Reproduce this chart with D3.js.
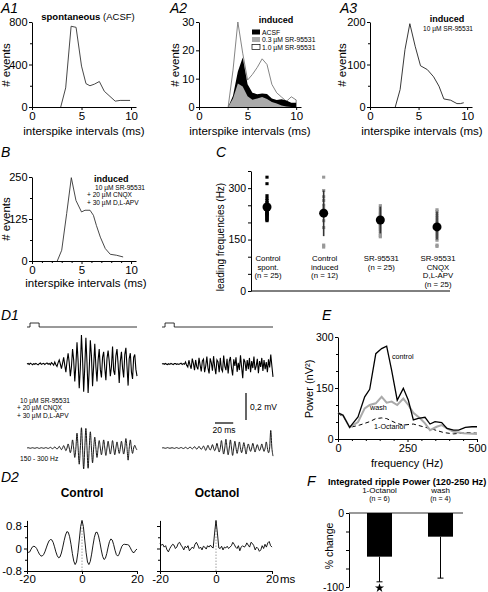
<!DOCTYPE html>
<html><head><meta charset="utf-8">
<script src="https://cdn.jsdelivr.net/npm/d3@7"></script>
<style>body{margin:0;background:#fff}svg{display:block;font-family:"Liberation Sans",Arial,Helvetica,sans-serif}</style>
</head><body><svg id="c" width="488" height="592"></svg>
<script>
// ---------------- DATA ----------------
// A1 spontaneous (ACSF) ISI histogram
const a1X = [2.9,3.4,3.95,4.45,5.0,5.45,5.85,6.3,6.8,7.3,8.4,8.9,9.9];
const a1Y = [0,180,760,750,385,220,200,215,240,148,55,62,62];
// A2 induced, three conditions on common bins
const a2X = [3.0,3.5,4.0,4.5,5.0,5.5,6.0,6.5,7.0,7.5,8.0,8.5,9.0,9.5,10.0];
const a2Sr10 = [0,13,30,19,9.5,11.5,14,17,15,8,5,3.5,2,3.6,2.5];
const a2Acsf = [0,4,12.5,17.5,8,5,4.5,4.8,4.6,3,2.5,2.7,2.3,1.5,1.5];
const a2Sr03 = [0,3,8.3,7.2,3.8,2.6,3.0,3.5,2.8,1.8,1.2,0.5,0.2,0,0];
const a2Legend = ["ACSF","0.3 µM SR-95531","1.0 µM SR-95531"];
// A3 induced 10 µM SR-95531
const a3X = [2.6,3.1,3.6,4.1,4.65,5.2,5.9,6.55,7.1,7.6,8.3,8.95,9.3,9.65];
const a3Y = [0,41,135,196,143,97,88,71,49,19,16,8,8,10];
// B induced + CNQX + APV
const bX = [2.55,3.0,3.5,3.97,4.44,5.0,5.35,5.86,6.2,6.5,6.9,7.4,7.9,8.55,9.2];
const bY = [0,32,141,248,180,146,151,151,136,106,71,37,20,17,12];
const isiTicks = [0,5,10];
// C leading frequencies
const cGroups = ["Control spont.","Control induced","SR-95531","SR-95531 CNQX D,L-APV"];
const cLabels = [["Control","spont.","(n = 25)"],["Control","induced","(n = 12)"],["SR-95531","(n = 25)"],["SR-95531","CNQX","D,L-APV","(n = 25)"]];
const cMeans = [245,227,207,187];
const cLow = [210,160,168,150];
const cHigh = [280,293,246,232];
const cPoints = [
 [332,313,278,270,264,258,254,250,247,244,241,238,236,233,230,228,226,224,222,220,217,214,211,208,205],
 [332,293,275,264,250,240,230,220,205,185,134,128],
 [249,242,236,230,226,222,218,214,211,209,207,205,203,201,199,197,195,192,188,184,180,175,168,162,158],
 [237,232,226,220,215,210,205,200,196,193,190,187,185,182,180,177,174,170,166,162,158,153,148,134,130]
];
// D1 field potential traces (µV, one sample per 1.22 ms)
const d1Dt = 1.22, stimOnset = 3.3, stimDur = 10;
const d1RawCtrl = [0,4,-3,6,1,-5,3,-2,5,-1,-6,2,7,-3,1,5,-4,3,8,-2,4,-6,10,3,-8,
 15,-5,-18,10,30,0,-35,5,50,-10,-60,20,80,10,-90,-20,110,30,-130,-10,
 160,20,-180,-30,215,40,-205,-20,195,10,-215,-40,175,60,-165,-10,150,-20,-130,30,
 110,-40,-100,50,90,-30,-120,40,100,20,-90,-20,130,-50,-80,60,110,0,-140,20,90,-30,-100,70,120,-20,-160,40,80,-60,-110,50,70,-40,-90];
const d1RawOct = [0,3,-2,4,-1,-4,2,-3,5,0,-5,3,4,-2,1,-3,2,6,-4,3,-2,
 15,-10,-22,28,-8,-35,40,4,-45,30,-20,-40,45,-8,-55,22,35,-60,-15,55,
 -30,-70,42,8,-50,58,-22,-75,30,15,-60,45,-38,-55,62,-15,-45,38,-70,22,
 52,-30,-85,35,-15,50,-58,8,-45,65,-22,-105,38,15,-52,30,-38,45,-60,22,
 -30,55,-45,-15,38,-68,22,-22,45,-52,30,-38,15,-60,35,-26,70,-15,-95];
const d1FiltCtrl = [0,2,0,-2,0,2,0,-2,0,3,0,-3,0,2,0,-2,0,3,0,-3,
 0,5,0,-5,0,8,0,-8,0,12,0,-12,0,18,0,-20,0,30,0,-35,
 0,60,0,-70,0,110,0,-120,0,150,0,-155,0,145,0,-150,0,120,0,-110,
 0,80,0,-70,0,55,0,-50,0,60,0,-55,0,50,0,-45,0,55,0,-50,
 0,45,0,-40,0,50,0,-45,0,70,0,-90,0,60,0,-40,0,20,0,-15];
const d1FiltOct = [0,2,0,-2,0,3,0,-2,0,2,0,-3,0,3,0,-3,0,4,0,-4,
 0,5,0,-5,0,8,0,-6,0,10,0,-8,0,12,0,-10,0,15,0,-18,
 0,20,0,-15,0,25,0,-20,0,35,0,-30,0,55,0,-45,0,65,0,-50,
 0,60,0,-55,0,50,0,-40,0,45,0,-35,0,40,0,-45,0,30,0,-25,
 0,35,0,-30,0,25,0,-20,0,30,0,-25,0,45,0,-35,0,130,0,-60];
const d1Drugs = ["10 µM SR-95531","+ 20 µM CNQX","+ 30 µM D,L-APV"];
// D2 autocorrelograms, lag -20..20 ms step 0.5
const d2Step = 0.5;
const d2Ctrl = [-0.08,-0.14,-0.12,-0.02,0.06,0.08,0.06,0.0,-0.10,-0.20,-0.26,-0.27,-0.22,-0.12,0.02,0.16,0.27,0.32,0.31,0.22,
 0.06,-0.12,-0.26,-0.33,-0.30,-0.16,0.05,0.28,0.48,0.60,0.58,0.42,0.15,-0.18,-0.45,-0.57,-0.48,-0.15,0.30,0.78,1.0,
 0.78,0.30,-0.15,-0.48,-0.57,-0.46,-0.20,0.12,0.40,0.57,0.58,0.45,0.22,-0.05,-0.28,-0.39,-0.35,-0.18,0.05,0.25,
 0.34,0.30,0.14,-0.06,-0.22,-0.27,-0.20,-0.05,0.08,0.14,0.15,0.14,0.14,0.12,0.04,-0.06,-0.14,-0.14,-0.06,-0.02];
const d2Oct = [0.18,0.12,0.15,0.05,0.10,-0.05,-0.12,0.0,0.08,0.15,0.12,0.0,0.05,0.18,0.22,0.12,0.05,-0.05,0.08,0.02,
 0.10,-0.08,-0.02,0.05,0.0,0.15,0.22,0.12,0.0,0.05,-0.05,0.08,0.05,-0.02,0.10,0.05,0.12,0.05,0.02,0.55,1.0,
 0.55,0.02,0.0,0.08,-0.05,0.05,0.02,0.08,0.0,0.05,0.10,0.22,0.15,0.05,0.0,0.10,-0.08,0.05,0.10,0.05,
 0.08,0.20,0.12,0.05,0.22,0.18,0.10,-0.05,0.05,0.0,-0.10,-0.05,0.10,0.0,0.15,0.05,0.20,0.25,0.10,0.05];
// E power spectra
const eCtrlF = [0,18,42,72,96,114,136,157,175,193,213,235,253,271,289,313,331,349,373,392,416,434,458,482,500];
const eCtrlP = [77,70,34,65,124,146,251,266,273,202,114,149,114,56,61,64,44,51,48,31,26,26,34,36,36];
const eWashF = [0,18,42,72,96,114,136,157,175,193,213,235,253,271,295,313,331,355,373,392,416,452,500];
const eWashP = [77,70,34,50,90,100,105,124,107,110,100,119,100,77,61,46,26,36,41,31,21,17,15];
const eOctF = [0,20,42,78,114,136,157,175,193,211,235,271,307,343,380,416,464,500];
const eOctP = [75,65,34,41,51,60,62,60,53,46,41,44,36,28,19,15,19,17];
// F integrated ripple power
const fCats = ["1-Octanol","wash"];
const fN = ["(n = 6)","(n = 4)"];
const fMeans = [-59,-32];
const fErrLow = [-93,-88];
const fSig = [true,false];

// ---------------- HELPERS ----------------
const svg = d3.select("#c");
function txt(x,y,s,o={}){
  const t = svg.append("text").attr("x",x).attr("y",y).attr("font-size",o.fs||12)
    .attr("text-anchor",o.anchor||"start").attr("fill",o.fill||"#000");
  if(o.bold) t.attr("font-weight","bold");
  if(o.italic) t.attr("font-style","italic");
  if(o.rot) t.attr("transform",`rotate(-90,${x},${y})`);
  t.text(s); return t;
}
function axis(orient,scale,pos,major,minor,o={}){
  const mk = orient==="left"?d3.axisLeft:d3.axisBottom;
  const tr = orient==="left"?`translate(${pos},0)`:`translate(0,${pos})`;
  const a = mk(scale).tickValues(major).tickSize(o.ts||3).tickSizeOuter(0).tickPadding(o.pad==null?2:o.pad)
     .tickFormat(o.fmt||(d=>String(d)));
  const g = svg.append("g").attr("transform",tr).call(a).attr("font-family",null).attr("font-size",null);
  g.selectAll("text").attr("font-size",o.fs||12).attr("fill","#000");
  g.selectAll("line,path").attr("stroke","#000");
  if(o.noLabels) g.selectAll("text").remove();
  if(minor){
    const gm = svg.append("g").attr("transform",tr).call(mk(scale).tickValues(minor).tickSize(o.ms||2).tickFormat(""));
    gm.select(".domain").remove(); gm.selectAll("line").attr("stroke","#000");
  }
  return g;
}
function linePath(xs,ys,x,y,curve){
  return d3.line().x((d,i)=>x(xs[i])).y((d,i)=>y(ys[i])).curve(curve||d3.curveLinear)(ys);
}
const AX = {fs:11,pad:1.5};

// ---------------- A1 ----------------
{
  const x = d3.scaleLinear([0,10.5],[32,136]), y = d3.scaleLinear([0,800],[107,22]);
  axis("left",y,32,[0,400,800],[200,600],AX);
  axis("bottom",x,107,isiTicks,null,{fs:11.5});
  svg.append("path").attr("d",linePath(a1X,a1Y,x,y)).attr("fill","none").attr("stroke","#333").attr("stroke-width",0.9);
  txt(1,13,"A1",{fs:14,italic:true});
  const t = txt(88,20,"",{fs:9.5,anchor:"middle"});
  t.append("tspan").attr("font-weight","bold").text("spontaneous");
  t.append("tspan").text(" (ACSF)");
  txt(9.5,65,"# events",{fs:11.5,rot:true,anchor:"middle"});
  txt(84,135,"interspike intervals (ms)",{fs:11.5,anchor:"middle"});
}
// ---------------- A2 ----------------
{
  const x = d3.scaleLinear([0,10.5],[199,301]), y = d3.scaleLinear([0,30],[107,22]);
  const area = ys => d3.area().x((d,i)=>x(a2X[i])).y0(y(0)).y1((d,i)=>y(ys[i]))(ys);
  svg.append("path").attr("d",area(a2Sr10)).attr("fill","#fff").attr("stroke","#777").attr("stroke-width",0.9);
  svg.append("path").attr("d",area(a2Acsf)).attr("fill","#000");
  svg.append("path").attr("d",area(a2Sr03)).attr("fill","#aaa");
  axis("left",y,199,[0,10,20,30],null,AX);
  axis("bottom",x,107,isiTicks,null,{fs:11.5});
  txt(170,13,"A2",{fs:14,italic:true});
  txt(276,23,"induced",{fs:9,bold:true,anchor:"middle"});
  const fills = ["#000","#aaa","#fff"];
  a2Legend.forEach((s,i)=>{
    svg.append("rect").attr("x",252).attr("y",29.5+i*7.5).attr("width",8).attr("height",5)
      .attr("fill",fills[i]).attr("stroke","#000").attr("stroke-width",i===2?0.7:0);
    txt(262,34.5+i*7.5,s,{fs:6.8});
  });
  txt(179,65,"# events",{fs:11.5,rot:true,anchor:"middle"});
  txt(250,135,"interspike intervals (ms)",{fs:11.5,anchor:"middle"});
}
// ---------------- A3 ----------------
{
  const x = d3.scaleLinear([0,10.5],[370,472]), y = d3.scaleLinear([0,200],[107,22]);
  axis("left",y,370,[0,100,200],[50,150],AX);
  axis("bottom",x,107,isiTicks,null,{fs:11.5});
  svg.append("path").attr("d",linePath(a3X,a3Y,x,y)).attr("fill","none").attr("stroke","#222").attr("stroke-width",0.9);
  txt(340,13,"A3",{fs:14,italic:true});
  txt(447,22,"induced",{fs:9,bold:true,anchor:"middle"});
  txt(448,31,"10 µM SR-95531",{fs:6.6,anchor:"middle"});
  txt(346,65,"# events",{fs:11.5,rot:true,anchor:"middle"});
  txt(422,135,"interspike intervals (ms)",{fs:11.5,anchor:"middle"});
}
// ---------------- B ----------------
{
  const x = d3.scaleLinear([0,10.5],[32,136]), y = d3.scaleLinear([0,250],[261,177]);
  axis("left",y,32,[0,125,250],[62.5,187.5],AX);
  axis("bottom",x,261,isiTicks,[1,2,3,4,6,7,8,9],{fs:11.5});
  svg.append("path").attr("d",linePath(bX,bY,x,y)).attr("fill","none").attr("stroke","#333").attr("stroke-width",0.9);
  txt(1,157,"B",{fs:14,italic:true});
  txt(94,182,"induced",{fs:9,bold:true});
  txt(95,189.5,"10 µM SR-95531",{fs:6.6});
  txt(87,197,"+ 20 µM CNQX",{fs:6.6});
  txt(87,204.5,"+ 30 µM D,L-APV",{fs:6.6});
  txt(9.5,219,"# events",{fs:11.5,rot:true,anchor:"middle"});
  txt(86,287,"interspike intervals (ms)",{fs:11.5,anchor:"middle"});
}
// ---------------- C ----------------
{
  const x = d3.scalePoint(cGroups,[267,437]), y = d3.scaleLinear([0,350],[291,171]);
  axis("left",y,251,[0,150,300],[50,100,200,250,350],{fs:10.5,ms:3});
  svg.append("line").attr("x1",251).attr("x2",450).attr("y1",291).attr("y2",291).attr("stroke","#000");
  cGroups.forEach((g,i)=>{
    const cx = x(g), col = i===0?"#000":"#333";
    svg.selectAll(null).data(cPoints[i]).enter().append("rect")
      .attr("x",cx-1.6).attr("y",d=>y(d)-1.5).attr("width",3.2).attr("height",3)
      .attr("fill",i===0?"#000":"#999");
    svg.append("line").attr("x1",cx).attr("x2",cx).attr("y1",y(cLow[i])).attr("y2",y(cHigh[i]))
      .attr("stroke",col).attr("stroke-width",1.6);
    svg.append("circle").attr("cx",cx).attr("cy",y(cMeans[i])).attr("r",4.5).attr("fill","#000");
    cLabels[i].forEach((s,j)=>txt(cx+1,261+j*8.7,s,{fs:7.8,anchor:"middle"}));
  });
  txt(216,157,"C",{fs:14,italic:true});
  txt(224,237,"leading frequencies (Hz)",{fs:10,rot:true,anchor:"middle"});
}
// ---------------- D1 ----------------
{
  const tot = d1Dt*(d1RawCtrl.length-1);
  const panels = [[27,137,d1RawCtrl,d1FiltCtrl],[162,273,d1RawOct,d1FiltOct]];
  panels.forEach(([x0,x1,raw,filt])=>{
    const t = d3.scaleLinear([0,tot],[x0,x1]);
    const yR = d3.scaleLinear([-250,250],[364+33.75,364-33.75]);
    const yF = d3.scaleLinear([-250,250],[448+33.75,448-33.75]);
    const sx = t(stimOnset), ex = t(stimOnset+stimDur);
    svg.append("path").attr("d",`M${x0},327H${sx}V323H${ex}V327H${x1}`).attr("fill","none").attr("stroke","#000").attr("stroke-width",0.8);
    svg.append("path").attr("d",d3.line().x((d,i)=>t(i*d1Dt)).y(d=>yR(d))(raw))
      .attr("fill","none").attr("stroke","#000").attr("stroke-width",1.1);
    svg.append("path").attr("d",d3.line().x((d,i)=>t(i*d1Dt)).y(d=>yF(d)).curve(d3.curveCardinal)(filt))
      .attr("fill","none").attr("stroke","#000").attr("stroke-width",0.9);
  });
  // scale bars
  const yR = d3.scaleLinear([-250,250],[364+33.75,364-33.75]);
  const t = d3.scaleLinear([0,tot],[27,137]);
  const barLen = yR(0)-yR(200), msLen = t(20)-t(0);
  svg.append("line").attr("x1",246).attr("x2",246).attr("y1",420).attr("y2",420-barLen).attr("stroke","#000").attr("stroke-width",1.2);
  svg.append("line").attr("x1",215).attr("x2",215+msLen).attr("y1",423).attr("y2",423).attr("stroke","#000").attr("stroke-width",1.2);
  txt(250,410,"0,2 mV",{fs:8.5});
  txt(224,433,"20 ms",{fs:8.5,anchor:"middle"});
  d1Drugs.forEach((s,i)=>txt(i===0?20:17,403+i*7.3,s,{fs:6.6}));
  txt(20,461,"150 - 300 Hz",{fs:6.7});
  txt(1,320,"D1",{fs:14,italic:true});
}
// ---------------- E ----------------
{
  const x = d3.scaleLinear([0,500],[338,477]), y = d3.scaleLinear([0,300],[439,337]);
  axis("bottom",x,439,[0,250,500],[50,100,150,200,300,350,400,450],{fs:11,ms:2});
  axis("left",y,338,[0,150,300],[50,100,200,250],{fs:10.5,pad:1.5});
  svg.append("path").attr("d",linePath(eOctF,eOctP,x,y)).attr("fill","none").attr("stroke","#000").attr("stroke-width",1).attr("stroke-dasharray","4,3");
  svg.append("path").attr("d",linePath(eWashF,eWashP,x,y)).attr("fill","none").attr("stroke","#aaa").attr("stroke-width",2);
  svg.append("path").attr("d",linePath(eCtrlF,eCtrlP,x,y)).attr("fill","none").attr("stroke","#000").attr("stroke-width",1.3);
  txt(392,359,"control",{fs:7.2});
  txt(370,410,"wash",{fs:7.2});
  txt(374,429,"1-Octanol",{fs:7.2});
  txt(322,320,"E",{fs:14,italic:true});
  txt(313,389,"Power (nV²)",{fs:11,rot:true,anchor:"middle"});
  txt(407,467,"frequency (Hz)",{fs:11,anchor:"middle"});
}
// ---------------- D2 ----------------
{
  const lags = d2Ctrl.map((d,i)=>-20+i*d2Step);
  const y = d3.scaleLinear([-0.8,1.0],[571,520.4]);
  [[27,137,d2Ctrl,true],[160,272,d2Oct,false]].forEach(([x0,x1,data,lab])=>{
    const x = d3.scaleLinear([-20,20],[x0,x1]);
    svg.append("line").attr("x1",x(0)).attr("x2",x(0)).attr("y1",571).attr("y2",y(1.0)).attr("stroke","#888").attr("stroke-width",0.8).attr("stroke-dasharray","1.5,1.5");
    axis("left",y,x0,[-0.8,0,0.8],[-0.4,0.4],{fs:11.5,noLabels:!lab});
    axis("bottom",x,571,[-20,0,20],null,{fs:11.5,pad:1});
    svg.append("path").attr("d",linePath(lags,data,x,y)).attr("fill","none").attr("stroke","#000").attr("stroke-width",0.9);
  });
  txt(280,583,"ms",{fs:11.5});
  txt(82,497,"Control",{fs:12,bold:true,anchor:"middle"});
  txt(217,497,"Octanol",{fs:12,bold:true,anchor:"middle"});
  txt(1,482,"D2",{fs:14,italic:true});
}
// ---------------- F ----------------
{
  const x = d3.scaleBand(fCats,[349,471]).paddingInner(0.59).paddingOuter(0.295);
  const y = d3.scaleLinear([-100,0],[587,513]);
  svg.append("line").attr("x1",349).attr("x2",463).attr("y1",y(0)).attr("y2",y(0)).attr("stroke","#999").attr("stroke-width",2);
  fCats.forEach((c,i)=>{
    const bx = x(c), bw = x.bandwidth(), cx = bx+bw/2;
    svg.append("rect").attr("x",bx).attr("y",y(0)).attr("width",bw).attr("height",y(fMeans[i])-y(0)).attr("fill","#000");
    svg.append("line").attr("x1",cx).attr("x2",cx).attr("y1",y(fMeans[i])).attr("y2",y(fErrLow[i])).attr("stroke","#000").attr("stroke-width",1);
    svg.append("line").attr("x1",cx-3).attr("x2",cx+3).attr("y1",y(fErrLow[i])).attr("y2",y(fErrLow[i])).attr("stroke","#000").attr("stroke-width",1);
    txt(cx,493,c,{fs:8,anchor:"middle"});
    txt(cx,501,fN[i],{fs:7,anchor:"middle"});
    if(fSig[i]) svg.append("path").attr("d",d3.symbol(d3.symbolStar,26)()).attr("transform",`translate(${cx},588)`).attr("fill","#000");
  });
  axis("left",y,349,[-100,0],[-75,-50,-25],{fs:10.5,ms:3});
  txt(307,486,"F",{fs:14,italic:true});
  txt(328,485,"Integrated ripple Power (120-250 Hz)",{fs:9.2,bold:true});
  txt(333,546,"% change",{fs:10.5,rot:true,anchor:"middle"});
}
</script></body></html>
